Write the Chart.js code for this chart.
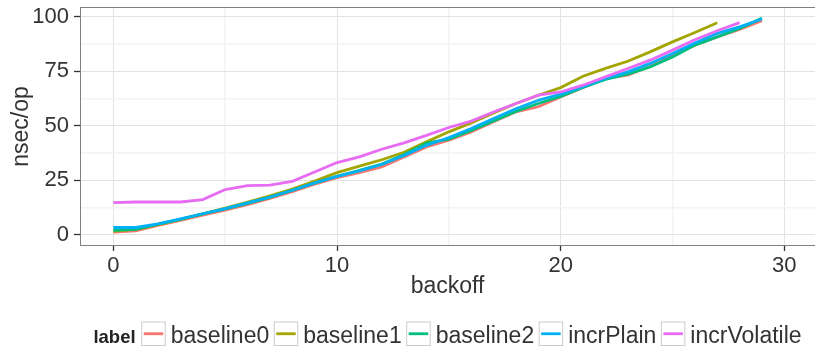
<!DOCTYPE html>
<html>
<head>
<meta charset="utf-8">
<script src="https://cdn.jsdelivr.net/npm/chart.js@4"></script>
<style>
  html, body { margin: 0; padding: 0; background: #fff; }
  #plot { display: block; }
</style>
</head>
<body>
<canvas id="plot" width="815" height="346"></canvas>
<script>
// backoff values on the x axis
const backoff = [0, 1, 2, 3, 4, 5, 6, 7, 8, 9, 10, 11, 12, 13, 14, 15, 16, 17, 18, 19,
                 20, 21, 22, 23, 24, 25, 26, 27, 28, 29];

// nsec/op for each label (series stop where the run stopped)
const baseline0 = [1.2, 1.8, 4.3, 6.6, 9.0, 11.3, 13.8, 16.6, 19.7, 23.2,
                   26.2, 28.5, 31.1, 35.7, 40.3, 43.4, 47.2, 51.8, 56.4, 58.7,
                   63.2, 67.6, 71.7, 73.2, 77.3, 82.4, 87.0, 90.8, 94.2, 98.2];
const baseline1 = [1.6, 2.4, 4.6, 7.0, 9.6, 12.2, 15.0, 17.8, 20.9, 24.6,
                   28.5, 31.5, 34.4, 37.8, 42.6, 47.2, 51.3, 55.9, 60.2, 64.0,
                   67.5, 72.7, 76.3, 79.6, 83.9, 88.5, 92.8, 97.3];
const baseline2 = [2.0, 2.4, 4.8, 7.0, 9.5, 11.8, 14.4, 17.1, 20.3, 23.7,
                   26.8, 29.5, 32.4, 36.8, 42.0, 43.8, 47.8, 52.2, 56.6, 60.2,
                   63.5, 67.6, 71.3, 73.7, 77.0, 81.6, 87.0, 90.8, 94.6, 99.4];
const incrPlain = [3.3, 3.3, 5.0, 7.2, 9.6, 12.0, 14.6, 17.3, 20.4, 23.8,
                   26.8, 29.3, 32.2, 36.4, 41.0, 44.6, 48.7, 53.3, 57.8, 61.7,
                   64.5, 67.9, 71.7, 74.7, 78.6, 83.2, 88.0, 92.4, 95.4, 99.0];
const incrVolatile = [14.7, 15.0, 15.0, 15.0, 16.1, 20.7, 22.5, 22.7, 24.5, 28.8,
                      33.1, 35.7, 39.2, 42.1, 45.6, 49.2, 52.1, 56.3, 60.2, 64.0,
                      65.5, 68.6, 72.4, 76.3, 80.1, 84.7, 89.5, 93.6, 97.3];

const seriesNames = ["baseline0", "baseline1", "baseline2", "incrPlain", "incrVolatile"];
const seriesValues = [baseline0, baseline1, baseline2, incrPlain, incrVolatile];
const seriesColors = ["#F8766D", "#A3A500", "#00BF7D", "#00B0F6", "#E76BF3"];

const yTicks = [0, 12.5, 25, 37.5, 50, 62.5, 75, 87.5, 100];
const xTicks = [0, 5, 10, 15, 20, 25, 30];

const FONT = "'Liberation Sans', Arial, Helvetica, sans-serif";
Chart.defaults.font.family = FONT;

const datasets = seriesValues.map((vals, i) => ({
    label: seriesNames[i],
    data: vals.map((v, j) => ({ x: backoff[j], y: v })),
    borderColor: seriesColors[i],
    backgroundColor: seriesColors[i],
    borderWidth: 2.8,
    pointRadius: 0,
    tension: 0,
    fill: false,
    order: seriesValues.length - i   // last group ends up on top
}));

// panel border drawn over the lines (right side runs off the canvas)
const panelBorder = {
    id: "panelBorder",
    afterDatasetsDraw(chart) {
        const { ctx, chartArea: a } = chart;
        ctx.save();
        ctx.strokeStyle = "#808080";
        ctx.lineWidth = 1;
        ctx.strokeRect(a.left + 0.5, a.top + 0.5, a.right - a.left + 4, a.bottom - a.top - 1);
        ctx.restore();
    }
};

// legend row under the x title: bold title, then a boxed key + name per series
const keyLegend = {
    id: "keyLegend",
    afterDraw(chart) {
        const { ctx, chartArea: a } = chart;
        const keyW = 24.5, keyGap = 5, itemGap = 4.5, titleGap = 5.7;
        const baseY = 343, keyTop = 321.5;

        ctx.save();
        ctx.font = "bold 18.5px " + FONT;
        const titleW = ctx.measureText("label").width;
        ctx.font = "23px " + FONT;
        const textW = seriesNames.map(n => ctx.measureText(n).width);

        let total = titleW + titleGap;
        textW.forEach((w, i) => { total += keyW + keyGap + w + (i < textW.length - 1 ? itemGap : 0); });
        let x = (a.left + a.right) / 2 - total / 2;

        ctx.textBaseline = "alphabetic";
        ctx.textAlign = "left";
        ctx.fillStyle = "#222";
        ctx.font = "bold 18.5px " + FONT;
        ctx.fillText("label", x, baseY);
        x += titleW + titleGap;

        ctx.font = "23px " + FONT;
        seriesNames.forEach((name, i) => {
            ctx.fillStyle = "#fff";
            ctx.fillRect(x, keyTop, keyW, keyW);
            ctx.strokeStyle = "#cccccc";
            ctx.lineWidth = 1;
            ctx.strokeRect(x + 0.5, keyTop + 0.5, keyW - 1, keyW - 1);
            ctx.strokeStyle = seriesColors[i];
            ctx.lineWidth = 2.8;
            ctx.beginPath();
            ctx.moveTo(x + 2.5, keyTop + keyW / 2);
            ctx.lineTo(x + keyW - 2.5, keyTop + keyW / 2);
            ctx.stroke();
            x += keyW + keyGap;
            ctx.fillStyle = "#333";
            ctx.fillText(name, x, baseY);
            x += textW[i] + itemGap;
        });
        ctx.restore();
    }
};

const isMajorY = v => v % 25 === 0;
const isMajorX = v => v % 10 === 0;

new Chart(document.getElementById("plot").getContext("2d"), {
    type: "line",
    data: { datasets },
    options: {
        responsive: false,
        animation: false,
        devicePixelRatio: 1,
        layout: { padding: { top: 7, right: 0, bottom: 45.2, left: 0 } },
        plugins: { legend: { display: false }, tooltip: { enabled: false } },
        scales: {
            x: {
                type: "linear",
                min: -1.49,
                max: 31.37,
                afterBuildTicks: axis => { axis.ticks = xTicks.map(v => ({ value: v })); },
                afterFit: axis => { axis.height = 54.8; axis.paddingLeft = 0; axis.paddingRight = 0; },
                ticks: {
                    autoSkip: false,
                    maxRotation: 0,
                    padding: 2,
                    color: "#333",
                    font: { size: 22 },
                    callback: v => isMajorX(v) ? String(v) : ""
                },
                grid: {
                    color: c => isMajorX(c.tick.value) ? "#e3e3e3" : "#f3f3f3",
                    lineWidth: c => isMajorX(c.tick.value) ? 1 : 1.5,
                    tickColor: c => isMajorX(c.tick.value) ? "#333" : "rgba(0,0,0,0)",
                    tickLength: 5,
                    tickWidth: 1.3
                },
                border: { display: false },
                title: {
                    display: true,
                    text: "backoff",
                    color: "#333",
                    font: { size: 23 },
                    padding: 0
                }
            },
            y: {
                type: "linear",
                min: -5.2,
                max: 104.5,
                afterBuildTicks: axis => { axis.ticks = yTicks.map(v => ({ value: v })); },
                afterFit: axis => { axis.width = 80; axis.paddingTop = 0; axis.paddingBottom = 0; },
                ticks: {
                    autoSkip: false,
                    padding: 5,
                    color: "#333",
                    font: { size: 22 },
                    callback: v => isMajorY(v) ? String(v) : ""
                },
                grid: {
                    color: c => isMajorY(c.tick.value) ? "#e3e3e3" : "#f3f3f3",
                    lineWidth: c => isMajorY(c.tick.value) ? 1 : 1.5,
                    tickColor: c => isMajorY(c.tick.value) ? "#333" : "rgba(0,0,0,0)",
                    tickLength: 6,
                    tickWidth: 1.3
                },
                border: { display: false },
                title: {
                    display: true,
                    text: "nsec/op",
                    color: "#333",
                    font: { size: 23 },
                    padding: { top: 7.5, bottom: 0 }
                }
            }
        }
    },
    plugins: [panelBorder, keyLegend]
});
</script>
</body>
</html>
